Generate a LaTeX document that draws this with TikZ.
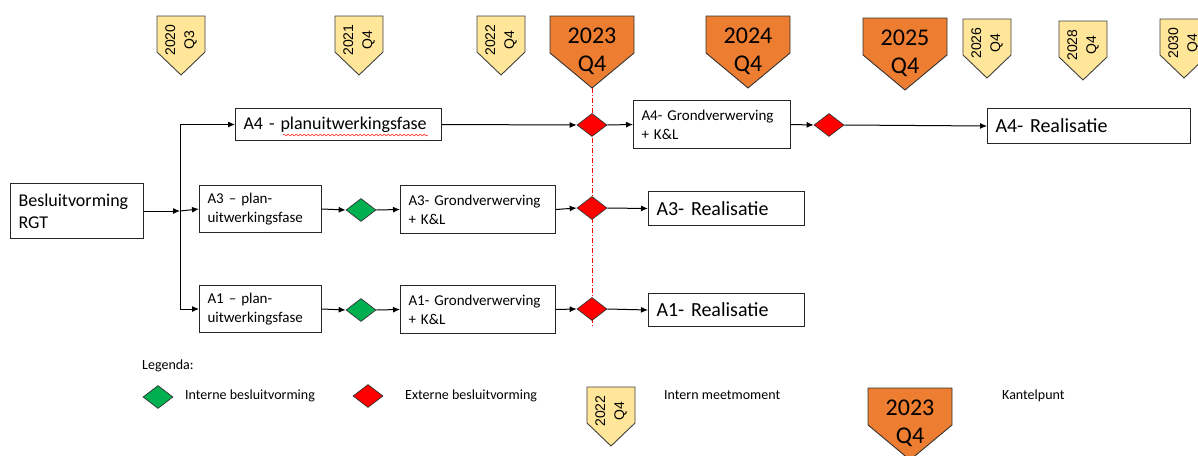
\documentclass[tikz,border=0pt]{standalone}
\usepackage{fontspec}
\setmainfont{Carlito}
\newfontfamily\markfont{Liberation Sans}
\usetikzlibrary{shapes.geometric,arrows.meta,decorations.pathmorphing}
\definecolor{meetgeel}{HTML}{FFE699}
\definecolor{kueloranje}{HTML}{ED7D31}
\definecolor{extrood}{HTML}{FF0000}
\definecolor{intgroen}{HTML}{00B050}
\tikzset{
  fase/.style={draw=black!85, line width=1pt, fill=white, inner xsep=8pt, inner ysep=1pt, align=left, anchor=north west},
  fasegroot/.style={fase, font=\fontsize{18}{22}\selectfont},
  faseklein/.style={fase, font=\fontsize{15}{19}\selectfont},
  fasereal/.style={fase, font=\fontsize{20}{24}\selectfont},
  besl/.style={diamond, draw=black!80, line width=0.7pt, inner sep=0pt, minimum width=30pt, minimum height=23pt},
  extbesl/.style={besl, fill=extrood},
  intbesl/.style={besl, fill=intgroen},
  meet/.style={draw=black!75, line width=0.9pt, fill=meetgeel},
  meetno/.style={rotate=90, align=center, inner sep=0pt, font=\markfont\fontsize{14}{19}\selectfont},
  kantel/.style={draw=black!80, line width=0.9pt, fill=kueloranje},
  kantelno/.style={align=center, inner sep=0pt, font=\fontsize{24}{28}\selectfont},
  kantellijn/.style={draw=extrood, line width=0.8pt, dash pattern=on 5pt off 2pt on 1pt off 2pt},
  pijl/.style={draw=black, line width=1pt, -{Latex[length=7pt,width=6pt]}},
  lijn/.style={draw=black, line width=1pt},
  legtekst/.style={anchor=west, inner sep=0pt, font=\fontsize{14}{17}\selectfont},
}
\begin{document}
\begin{tikzpicture}[x=1pt,y=-1pt]
\useasboundingbox (0,0) rectangle (1198,455);

\foreach \x/\y/\yr/\q [count=\i] in {181/16/2020/Q3, 359/16/2021/Q4, 501/16/2022/Q4, 987/19/2026/Q4, 1083/21/2028/Q4, 1184/19/2030/Q4, 611/387/2022/Q4} {
  \draw[meet] (\x-24,\y) -- (\x+24,\y) -- (\x+24,\y+36) -- (\x,\y+59) -- (\x-24,\y+36) -- cycle;
  \node[meetno] (meet\i) at (\x,\y+24) {\yr\\\q};
}
\foreach \x/\y/\yr [count=\i] in {592/16/2023, 748/16/2024, 905/18/2025, 910/388/2023} {
  \draw[kantel] (\x-42,\y) -- (\x+42,\y) -- (\x+42,\y+37) -- (\x,\y+72) -- (\x-42,\y+37) -- cycle;
  \node[kantelno] (kantel\i) at (\x,\y+35) {\yr\\Q4};
}

\coordinate (kanteltop) at (592,88);
\coordinate (kantelbot) at (592,326);
\draw[kantellijn] (kanteltop) -- (kantelbot);

\node[fasegroot, text width=117pt, minimum height=55pt] (besluit) at (10,183) {Besluitvorming\\RGT};
\node[fasegroot, text width=190pt, minimum height=32pt] (a4plan) at (235,108) {A4 - planuitwerkingsfase};
\node[faseklein, text width=106pt, minimum height=47pt] (a3plan) at (199,185) {A3 -- plan-\\uitwerkingsfase};
\node[faseklein, text width=106pt, minimum height=47pt] (a1plan) at (199,285) {A1 -- plan-\\uitwerkingsfase};
\node[faseklein, text width=139pt, minimum height=48pt] (a3grond) at (400,185) {A3- Grondverwerving\\+ K\&L};
\node[faseklein, text width=139pt, minimum height=48pt] (a1grond) at (400,285) {A1- Grondverwerving\\+ K\&L};
\node[faseklein, text width=141pt, minimum height=48pt] (a4grond) at (633,100) {A4- Grondverwerving\\+ K\&L};
\node[fasereal, text width=140pt, minimum height=34pt] (a3real) at (648,191) {A3- Realisatie};
\node[fasereal, text width=140pt, minimum height=33pt] (a1real) at (648,293) {A1- Realisatie};
\node[fasereal, text width=187pt, minimum height=35pt] (a4real) at (987,108) {A4- Realisatie};
\draw[extrood, line width=0.5pt, decorate, decoration={snake, segment length=4pt, amplitude=0.8pt}] (283,135) -- (428,135);

\node[extbesl] (d4a) at (592,125) {};
\node[extbesl] (d4b) at (829,125) {};
\node[intbesl] (g3) at (361,210) {};
\node[extbesl] (d3) at (592,208) {};
\node[intbesl] (g1) at (361,310) {};
\node[extbesl] (d1) at (592,309) {};

\coordinate (split) at (180,211);
\draw[pijl] (besluit.east) -- (split);
\draw[lijn] (split) -- (180,125);
\draw[lijn] (split) -- (180,309);
\draw[pijl] (split) |- (a4plan.west);
\draw[pijl] (split) -- (a3plan.west);
\draw[pijl] (split) |- (a1plan.west);

\draw[pijl] (a4plan.east) -- (d4a.west);
\draw[pijl] (d4a.east) -- (a4grond.west);
\draw[pijl] (a4grond.east) -- (d4b.west);
\draw[pijl] (d4b.east) -- (a4real.west);

\draw[pijl] (a3plan.east) -- (g3.west);
\draw[pijl] (g3.east) -- (a3grond.west);
\draw[pijl] (a3grond.east) -- (d3.west);
\draw[pijl] (d3.east) -- (a3real.west);

\draw[pijl] (a1plan.east) -- (g1.west);
\draw[pijl] (g1.east) -- (a1grond.west);
\draw[pijl] (a1grond.east) -- (d1.west);
\draw[pijl] (d1.east) -- (a1real.west);

\node[legtekst] (legenda) at (142,366) {Legenda:};
\node[intbesl] (legint) at (158,397) {};
\node[legtekst] (leginttekst) at (185,396) {Interne besluitvorming};
\node[extbesl] (legext) at (368,396) {};
\node[legtekst] (legexttekst) at (405,396) {Externe besluitvorming};
\node[legtekst] (legmeet) at (664,395) {Intern meetmoment};
\node[legtekst] (legkantel) at (1002,396) {Kantelpunt};
\end{tikzpicture}
\end{document}
